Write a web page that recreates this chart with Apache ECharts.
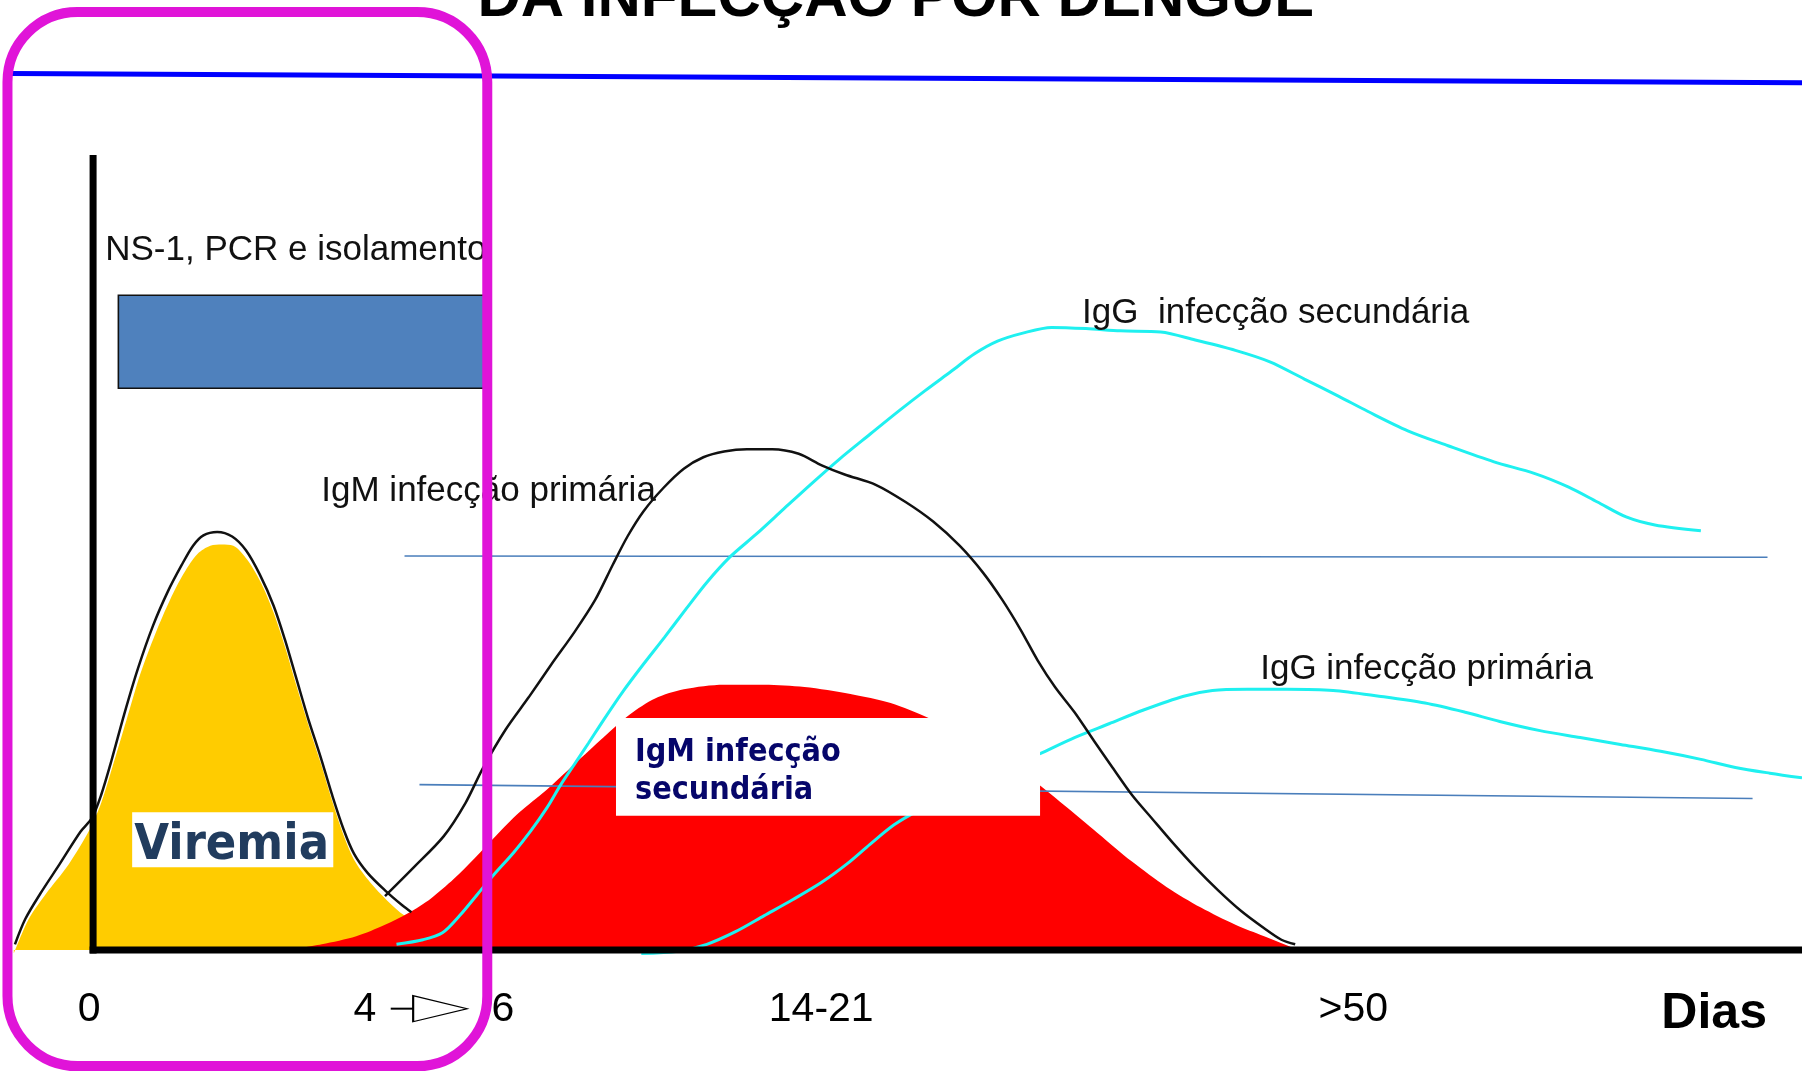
<!DOCTYPE html>
<html><head><meta charset="utf-8">
<script src="https://cdn.jsdelivr.net/npm/echarts/dist/echarts.min.js"></script>
<style>html,body{margin:0;padding:0;background:#fff}#c{width:1802px;height:1073px}</style>
</head><body><div id="c"></div>
<script>
// ---- data (x = position along the time axis, y = response level; 0 = baseline) ----
const viremiaFill = [[12,-3],[25,27],[40,49],[60,75],[78,105],[88,128],[98,160],[110,200],[122,240],[135,275],[148,305],[160,328],[172,345],[183,352],[193,353],[203,352],[215,340],[227,320],[238,294],[248,264],[258,230],[268,197],[279,163],[289,130],[299,100],[309,77],[322,59],[337,43],[352,30],[370,20],[395,10],[420,3],[440,0]];
const viremiaLine = [[13,5],[22,27],[35,49],[52,75],[70,103],[80,115],[88,135],[97,165],[108,205],[120,245],[133,282],[146,312],[158,335],[168,352],[177,361],[189,364],[202,360],[214,348],[226,327],[238,300],[248,270],[258,236],[268,202],[279,168],[289,135],[299,105],[308,84],[320,67],[335,52],[350,39],[358,33]];
const igmPrimary = [[335,47],[360,72],[386,99],[405,128],[420,158],[440,192],[460,220],[480,249],[500,277],[518,305],[533,335],[546,360],[560,382],[577,402],[595,419],[612,429],[630,434],[650,436],[672,436],[695,432],[715,422],[735,414],[762,405],[788,390],[812,373],[835,352],[855,329],[872,305],[888,279],[903,252],[918,229],[935,207],[952,182],[968,159],[985,135],[1002,115],[1020,94],[1040,72],[1060,52],[1080,34],[1100,19],[1115,9],[1127,5]];
const iggSecondary = [[345,5],[368,9],[385,15],[400,30],[415,48],[430,66],[447,85],[462,104],[476,124],[488,144],[500,162],[512,180],[525,200],[542,225],[560,249],[578,272],[597,297],[615,320],[635,342],[658,362],[682,384],[705,405],[730,427],[757,449],[783,470],[805,487],[828,504],[848,519],[868,530],[890,537],[915,542],[945,541],[975,539],[1010,538],[1040,531],[1075,522],[1105,512],[1135,497],[1165,482],[1190,469],[1225,452],[1260,439],[1300,425],[1335,415],[1365,403],[1390,390],[1415,377],[1440,370],[1480,365]];
const iggPrimary = [[558,-3],[590,-1],[615,5],[640,16],[665,30],[690,44],[715,59],[737,75],[757,92],[778,109],[800,122],[830,137],[860,150],[885,162],[905,171],[935,185],[965,197],[995,209],[1030,221],[1055,226],[1085,227],[1120,227],[1160,226],[1200,221],[1240,215],[1275,207],[1305,199],[1340,191],[1375,185],[1410,179],[1445,173],[1480,166],[1510,159],[1540,154],[1568,150]];
const igmSecondary = [[250,0],[280,5],[310,12],[335,22],[355,32],[375,45],[395,62],[413,80],[432,100],[452,120],[475,139],[500,162],[525,185],[548,205],[570,219],[595,227],[630,231],[665,231],[700,229],[740,223],[775,215],[808,202],[840,187],[870,167],[900,147],[925,127],[955,102],[985,77],[1015,55],[1045,37],[1075,22],[1100,12],[1125,2],[1130,0]];
const thresholdHigh = [[352,343],[1538,342]];
const thresholdLow = [[365,144],[1525,132]];
const nsWindow = [[103,570,422,489]];
const tickLabels = ['0','4','6','14-21','>50'];
const tickPos = [78,318,438,715,1178];
const curveNames = ['NS-1, PCR e isolamento','IgM infecção primária','IgG  infecção secundária','IgG infecção primária','IgM infecção\nsecundária','Viremia'];
const titleText = 'DA INFECÇÃO POR DENGUE';
const axisName = 'Dias';

// ---- chart ----
const chart = echarts.init(document.getElementById('c'), null, {renderer:'canvas'});
const SANS = "'Liberation Sans', Arial, sans-serif";
const VERD = "'DejaVu Sans Condensed', 'DejaVu Sans', Verdana, sans-serif";

function rectRender(style, r) {
  return function(params, api) {
    const p1 = api.coord([api.value(0), api.value(1)]);
    const p2 = api.coord([api.value(2), api.value(3)]);
    return {type:'rect', shape:{x:Math.min(p1[0],p2[0]), y:Math.min(p1[1],p2[1]),
      width:Math.abs(p2[0]-p1[0]), height:Math.abs(p2[1]-p1[1]), r:r||0}, style:style};
  };
}
function rectSeries(data, style, z, r) {
  return {type:'custom', z:z, silent:true, clip:false, renderItem:rectRender(style, r),
    encode:{x:[0,2], y:[1,3]}, data:data};
}
function lineSeries(data, color, width, z, smooth) {
  return {type:'line', z:z, silent:true, symbol:'none', smooth:smooth||false, clip:false,
    lineStyle:{color:color, width:width, opacity:1}, data:data};
}
function textSeries(items, z) {
  return {type:'scatter', z:z, silent:true, symbolSize:1, clip:false,
    itemStyle:{color:'rgba(0,0,0,0)', opacity:1},
    data: items.map(it => ({value:[it.x, it.y], label:Object.assign({show:true, position:[0,0],
      formatter:it.text, align:it.align||'left', verticalAlign:'middle', opacity:1}, it.style)}))};
}
const labStyle = {fontFamily:SANS, fontSize:35, color:'#111'};
const tickStyle = {fontFamily:SANS, fontSize:41, color:'#000'};

const option = {
  animation:false,
  backgroundColor:'#fff',
  grid:{left:0, right:0, top:0, bottom:0},
  xAxis:{type:'value', min:0, max:1568, show:false},
  yAxis:{type:'value', min:-107, max:827, show:false},
  series:[
    // yellow viremia
    Object.assign(lineSeries(viremiaFill, '#ffcc00', 0, 1, 0.3), {areaStyle:{color:'#ffcc00', opacity:1}}),
    // red IgM secundária
    Object.assign(lineSeries(igmSecondary, '#ff0000', 0, 2, 0.3), {areaStyle:{color:'#ff0000', opacity:1}}),
    lineSeries(viremiaLine, '#111', 2.5, 5, 0.3),
    lineSeries(thresholdHigh, '#4a7ebb', 1.6, 3),
    lineSeries(thresholdLow, '#4a7ebb', 1.6, 3),
    lineSeries(iggSecondary, '#1ff0f0', 3, 4, 0.3),
    lineSeries(iggPrimary, '#1ff0f0', 3, 4, 0.3),
    lineSeries(igmPrimary, '#111', 2.5, 5, 0.3),
    // axes
    lineSeries([[81,692],[81,-3]], '#000', 7, 6),
    lineSeries([[78,0],[1568,0]], '#000', 7, 6),
    // top blue rule
    lineSeries([[10,763],[1568,755]], '#0000ff', 5, 6),
    // NS-1 window bar
    rectSeries(nsWindow, {fill:'#4f81bd', stroke:'#111', lineWidth:1.6}, 7),
    // white label boxes
    rectSeries([[115,120,290,72]], {fill:'#fff'}, 10),
    rectSeries([[536,202,905,117]], {fill:'#fff'}, 10),
    // texts
    textSeries([
      {x:92, y:609, text:curveNames[0], style:labStyle},
      {x:280, y:399, text:curveNames[1], style:labStyle},
      {x:942, y:554, text:curveNames[2], style:labStyle},
      {x:1097, y:244, text:curveNames[3], style:labStyle},
      {x:553, y:155, text:curveNames[4], style:{fontFamily:VERD, fontWeight:'bold', fontSize:32, lineHeight:38, color:'#06066a'}},
      {x:202, y:90, text:curveNames[5], align:'center', style:{fontFamily:VERD, fontWeight:'bold', fontSize:50, color:'#213c5e'}},
      {x:780, y:827, text:titleText, align:'center', style:{fontFamily:SANS, fontWeight:'bold', fontSize:60, color:'#000'}},
      {x:1492, y:-56, text:axisName, align:'center', style:{fontFamily:SANS, fontWeight:'bold', fontSize:50, color:'#000'}}
    ].concat(tickLabels.map((t,i) => ({x:tickPos[i], y:-52, text:t, align:'center', style:tickStyle}))), 11),
    // arrow 4 -> 6
    lineSeries([[340,-51],[362,-51]], '#000', 2, 6),
    {type:'scatter', z:7, silent:true, symbol:'triangle', symbolRotate:-90, symbolSize:[26,54],
      itemStyle:{color:'#fff', borderColor:'#000', borderWidth:1.5, opacity:1}, data:[[383,-51]]},
    // magenta highlight frame
    rectSeries([[6.5,816.5,424,-101]], {fill:'none', stroke:'#e014d8', lineWidth:10}, 20, 70)
  ]
};
chart.setOption(option);
</script>
</body></html>
